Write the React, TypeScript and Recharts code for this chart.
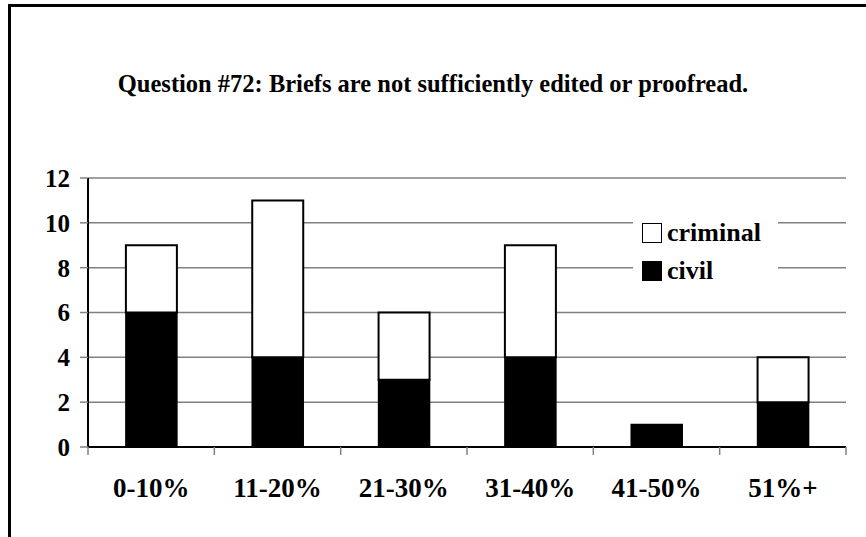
import { BarChart, Bar, XAxis, YAxis, CartesianGrid, Legend } from "recharts";

const categories = ["0-10%", "11-20%", "21-30%", "31-40%", "41-50%", "51%+"];
const civil = [6, 4, 3, 4, 1, 2];
const criminal = [3, 7, 3, 5, 0, 2];
const yTicks = [0, 2, 4, 6, 8, 10, 12];

const chartData = categories.map((name, i) => ({
  name,
  civil: civil[i],
  criminal: criminal[i],
}));

const FONT = "'Liberation Serif', 'Times New Roman', serif";

const CategoryTick = ({ x, y, payload, index }: any) => {
  const half = payload && payload.offset ? payload.offset : 63;
  const isLast = index === categories.length - 1;
  return (
    <g>
      <line x1={x - half} y1={y - 8} x2={x - half} y2={y} stroke="#808080" strokeWidth={1.5} />
      {isLast && (
        <line x1={x + half} y1={y - 8} x2={x + half} y2={y} stroke="#808080" strokeWidth={1.5} />
      )}
      <text
        x={x}
        y={y + 42}
        textAnchor="middle"
        fontFamily={FONT}
        fontWeight="bold"
        fontSize={27}
        fill="#000"
      >
        {payload.value}
      </text>
    </g>
  );
};

const LegendBox = () => (
  <div
    style={{
      background: "#fff",
      width: 145,
      fontFamily: FONT,
      fontWeight: "bold",
      fontSize: 26,
      paddingLeft: 9,
      boxSizing: "border-box",
      textAlign: "left",
    }}
  >
    {[
      { label: "criminal", fill: "#fff" },
      { label: "civil", fill: "#000" },
    ].map((item) => (
      <div key={item.label} style={{ display: "flex", alignItems: "center", height: 38 }}>
        <span
          style={{
            display: "inline-block",
            width: 18,
            height: 18,
            background: item.fill,
            border: "1.5px solid #000",
            marginRight: 5,
          }}
        />
        <span>{item.label}</span>
      </div>
    ))}
  </div>
);

export default function App() {
  return (
    <div
      style={{
        position: "absolute",
        left: 0,
        top: 0,
        width: 866,
        height: 537,
        overflow: "hidden",
        background: "#fff",
      }}
    >
      <div
        style={{
          position: "absolute",
          left: 8,
          top: 4,
          width: 900,
          height: 600,
          borderLeft: "3px solid #000",
          borderTop: "3px solid #000",
        }}
      />
      <div
        style={{
          position: "absolute",
          left: 0,
          top: 70,
          width: 866,
          textAlign: "center",
          fontFamily: FONT,
          fontWeight: "bold",
          fontSize: 24.5,
        }}
      >
        Question #72: Briefs are not sufficiently edited or proofread.
      </div>
      <div style={{ position: "absolute", left: 0, top: 0 }}>
        <BarChart
          width={866}
          height={537}
          data={chartData}
          margin={{ top: 178, right: 20, left: 0, bottom: 0 }}
          barCategoryGap="30%"
        >
          <CartesianGrid vertical={false} stroke="#808080" strokeWidth={1.5} />
          <XAxis
            dataKey="name"
            height={90}
            axisLine={{ stroke: "#000", strokeWidth: 2 }}
            tickLine={false}
            tickSize={8}
            tickMargin={0}
            interval={0}
            tick={<CategoryTick />}
          />
          <XAxis xAxisId="top" orientation="top" height={0} tick={false} tickLine={false} axisLine={{ stroke: "#000", strokeWidth: 2 }} />
          <YAxis
            width={88}
            domain={[0, 12]}
            ticks={yTicks}
            interval={0}
            axisLine={{ stroke: "#000", strokeWidth: 2 }}
            tickLine={{ stroke: "#808080", strokeWidth: 1.5 }}
            tickSize={8}
            tickMargin={10}
            tick={{ fontFamily: FONT, fontWeight: "bold", fontSize: 25, fill: "#000" }}
          />
          <YAxis yAxisId="right" orientation="right" width={0} tick={false} tickLine={false} axisLine={{ stroke: "#000", strokeWidth: 2 }} />
          <Legend
            content={<LegendBox />}
            layout="vertical"
            verticalAlign="middle"
            align="center"
            wrapperStyle={{ left: 633, top: 214, width: 145 }}
          />
          <Bar dataKey="civil" stackId="a" fill="#000" stroke="#000" strokeWidth={1.5} isAnimationActive={false} />
          <Bar dataKey="criminal" stackId="a" fill="#fff" stroke="#000" strokeWidth={2} isAnimationActive={false} />
        </BarChart>
      </div>
    </div>
  );
}
